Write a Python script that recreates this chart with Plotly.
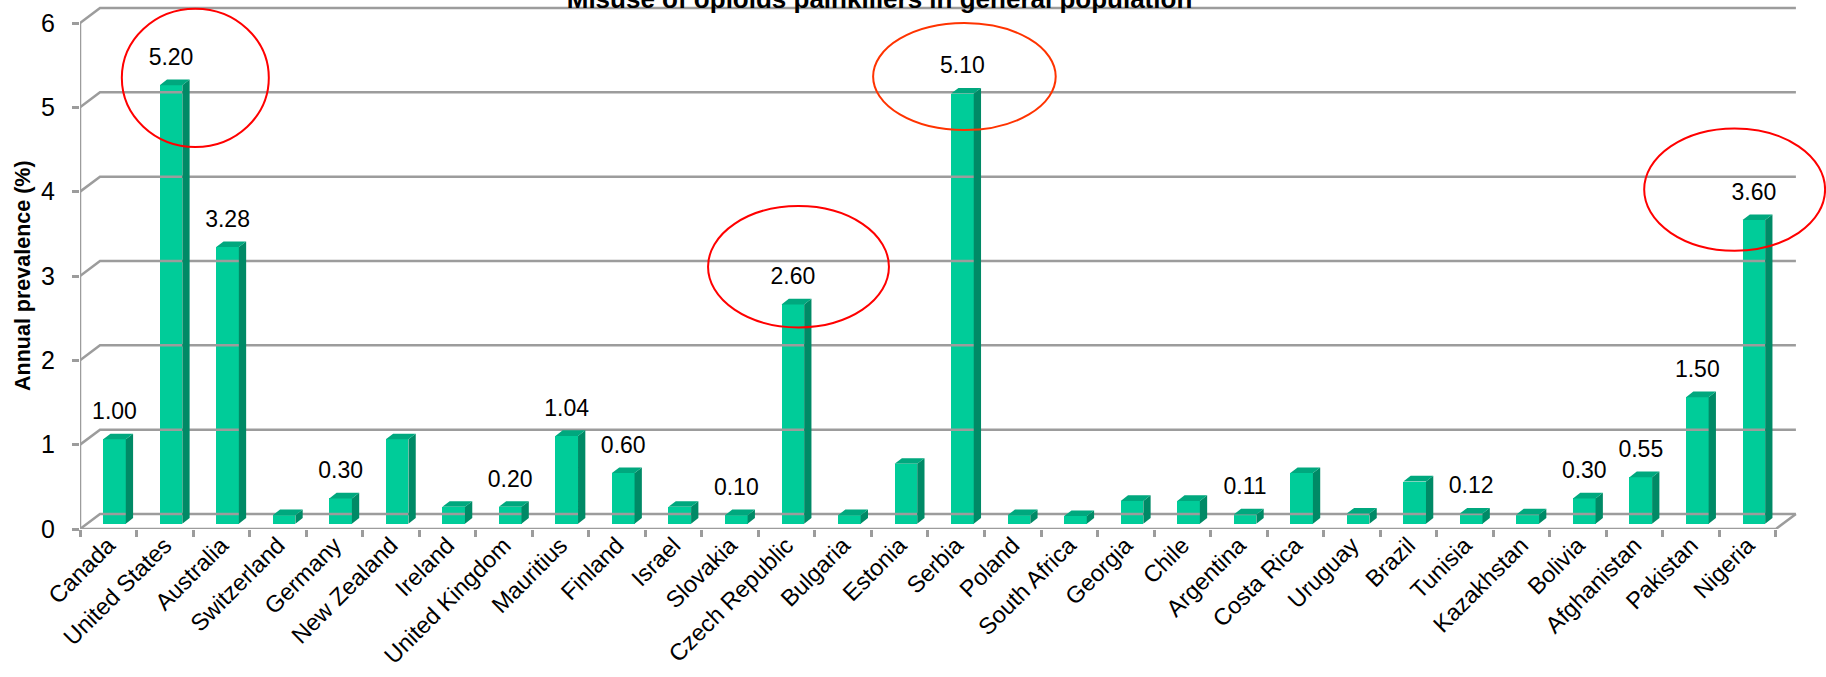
import plotly.graph_objects as go

# ---------------- data ----------------
countries = ["Canada", "United States", "Australia", "Switzerland", "Germany",
             "New Zealand", "Ireland", "United Kingdom", "Mauritius", "Finland",
             "Israel", "Slovakia", "Czech Republic", "Bulgaria", "Estonia",
             "Serbia", "Poland", "South Africa", "Georgia", "Chile",
             "Argentina", "Costa Rica", "Uruguay", "Brazil", "Tunisia",
             "Kazakhstan", "Bolivia", "Afghanistan", "Pakistan", "Nigeria"]
prevalence = [1.00, 5.20, 3.28, 0.10, 0.30,
              1.00, 0.20, 0.20, 1.04, 0.60,
              0.20, 0.10, 2.60, 0.10, 0.71,
              5.10, 0.10, 0.09, 0.27, 0.27,
              0.11, 0.60, 0.12, 0.50, 0.12,
              0.11, 0.30, 0.55, 1.50, 3.60]
labelled = ["Canada", "United States", "Australia", "Germany", "United Kingdom",
            "Mauritius", "Finland", "Slovakia", "Czech Republic", "Serbia",
            "Argentina", "Tunisia", "Bolivia", "Afghanistan", "Pakistan", "Nigeria"]
y_ticks = [0, 1, 2, 3, 4, 5, 6]
title_text = "Misuse of opioids painkillers in general population"
y_title = "Annual prevalence (%)"

# hand-drawn highlight ellipses (extent relative to the bar: dx0, dx1, dy0, dy1, colour)
highlights = {
    "United States": (-0.76, 1.84, -0.67, 0.97, "#ff0000"),
    "Czech Republic": (-1.39, 1.81, -0.21, 1.23, "#ff0000"),
    "Serbia": (-1.47, 1.76, -0.37, 0.90, "#ff3300"),
    "Nigeria": (-1.83, 1.37, -0.30, 1.15, "#ff0000"),
}

# ---------------- geometry / style ----------------
W, H = 1826, 677
ML, MR, MT, MB = 80, 0, 0, 148
PX_CAT = 56.53          # pixels per category
PX_UNIT = 84.33         # pixels per y unit
n = len(countries)
x_max = -0.5 + (W - ML - MR) / PX_CAT
y_max = (H - MT - MB) / PX_UNIT

wall_dx = 20 / PX_CAT    # back-wall depth offset
wall_dy = 15 / PX_UNIT
bar_base = 5.3 / PX_UNIT
bar_off = 0.11
bar_w = 0.40
side_dx = 7.3 / PX_CAT
side_dy = 5.7 / PX_UNIT
label_dy = 26 / PX_UNIT

FRONT = "#00cc99"
SIDE = "#008a66"
TOP = "#00a87e"
GRID = "#9c9c9c"
FONT = "Arial, Liberation Sans, sans-serif"

idx = list(range(n))

fig = go.Figure()

# frame: front y axis line, diagonals, back-wall gridlines, floor
fx, fy = [], []
fx += [-0.5, -0.5, None]
fy += [0, y_ticks[-1], None]
for v in y_ticks:
    fx += [-0.5, -0.5 + wall_dx, n - 0.5 + wall_dx, None]
    fy += [v, v + wall_dy, v + wall_dy, None]
fx += [-0.5, n - 0.5, n - 0.5 + wall_dx, None]
fy += [0, 0, wall_dy, None]
fig.add_trace(go.Scatter(x=fx, y=fy, mode="lines", line=dict(color=GRID, width=2.5),
                         hoverinfo="skip", showlegend=False, cliponaxis=False))

# front faces of bars
fig.add_trace(go.Bar(x=[i + bar_off for i in idx], y=prevalence, base=bar_base,
                     width=bar_w, marker=dict(color=FRONT, line=dict(width=0)),
                     hoverinfo="skip", showlegend=False))

# side and top faces
sx, sy, tx, ty = [], [], [], []
for i, v in zip(idx, prevalence):
    x0 = i + bar_off - bar_w / 2
    x1 = i + bar_off + bar_w / 2
    top = bar_base + v
    sx += [x1, x1 + side_dx, x1 + side_dx, x1, x1, None]
    sy += [bar_base, bar_base + side_dy, top + side_dy, top, bar_base, None]
    tx += [x0, x0 + side_dx, x1 + side_dx, x1, x0, None]
    ty += [top, top + side_dy, top + side_dy, top, top, None]
fig.add_trace(go.Scatter(x=sx, y=sy, mode="lines", fill="toself", fillcolor=SIDE,
                         line=dict(width=0, color=SIDE), hoverinfo="skip", showlegend=False))
fig.add_trace(go.Scatter(x=tx, y=ty, mode="lines", fill="toself", fillcolor=TOP,
                         line=dict(width=0, color=TOP), hoverinfo="skip", showlegend=False))

# value labels
lx, ly, lt = [], [], []
for i, c, v in zip(idx, countries, prevalence):
    if c in labelled:
        lx.append(i + bar_off)
        ly.append(bar_base + v + label_dy)
        lt.append(f"{v:.2f}")
fig.add_trace(go.Scatter(x=lx, y=ly, text=lt, mode="text", textposition="middle center",
                         textfont=dict(family=FONT, size=23, color="#000000"),
                         hoverinfo="skip", showlegend=False, cliponaxis=False))

# highlight ellipses
shapes = []
for c, (dx0, dx1, dy0, dy1, col) in highlights.items():
    i = countries.index(c)
    v = prevalence[i]
    shapes.append(dict(type="circle", xref="x", yref="y",
                       x0=i + dx0, x1=i + dx1, y0=v + dy0, y1=v + dy1,
                       line=dict(color=col, width=2)))

fig.update_layout(
    width=W, height=H,
    margin=dict(l=ML, r=MR, t=MT, b=MB),
    paper_bgcolor="white", plot_bgcolor="white",
    shapes=shapes,
    bargap=0,
    title=dict(text=title_text, x=879.5 / W, xanchor="center", xref="container",
               y=1 - 8 / H, yanchor="bottom", yref="container",
               font=dict(family=FONT, size=26, color="#000000", weight="bold")),
    xaxis=dict(range=[-0.5, x_max], tickmode="array", tickvals=idx, ticktext=countries,
               tickangle=-45, ticks="", showgrid=False, zeroline=False, showline=False,
               automargin=False,
               tickfont=dict(family=FONT, size=23.5, color="#000000"),
               ticklabelstandoff=-3,
               minor=dict(tickmode="array", tickvals=[i - 0.5 for i in range(n + 1)],
                          ticks="outside", ticklen=7, tickwidth=2.5, tickcolor=GRID)),
    yaxis=dict(range=[0, y_max], tickmode="array", tickvals=y_ticks,
               ticktext=[str(v) for v in y_ticks],
               ticks="outside", ticklen=7, tickwidth=2.5, tickcolor=GRID,
               showgrid=False, zeroline=False, showline=False, automargin=False,
               tickfont=dict(family=FONT, size=25, color="#000000"),
               ticklabelstandoff=12),
    annotations=[dict(text=y_title, textangle=-90, xref="paper", yref="paper",
                      x=(23 - ML) / (W - ML - MR), y=1 - (276 - MT) / (H - MT - MB),
                      xanchor="center", yanchor="middle", showarrow=False,
                      font=dict(family=FONT, size=21.5, color="#000000", weight="bold"))],
)

fig.write_html("out.html")
